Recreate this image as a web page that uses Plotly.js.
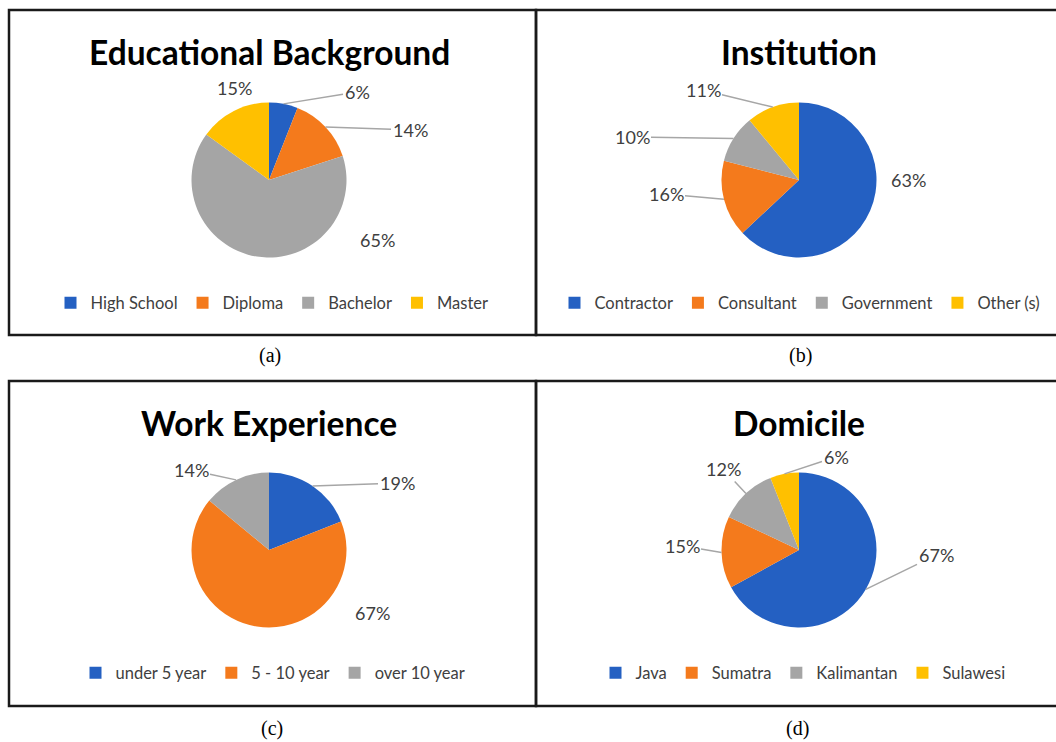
<!DOCTYPE html>
<html>
<head>
<meta charset="utf-8">
<script src="https://cdn.plot.ly/plotly-3.0.1.min.js"></script>
<style>html,body{margin:0;padding:0;background:#fff;}#chart{width:1056px;height:742px;}</style>
</head>
<body>
<div id="chart"></div>
<script>
// ---------- DATA ----------
const titles = ["Educational Background", "Institution", "Work Experience", "Domicile"];
const captions = ["(a)", "(b)", "(c)", "(d)"];

const eduLabels = ["High School", "Diploma", "Bachelor", "Master"];
const eduValues = [6, 14, 65, 15];

const instLabels = ["Contractor", "Consultant", "Government", "Other (s)"];
const instValues = [63, 16, 10, 11];

const workLabels = ["under 5 year", "5 - 10 year", "over 10 year"];
const workValues = [19, 67, 14];

const domLabels = ["Java", "Sumatra", "Kalimantan", "Sulawesi"];
const domValues = [67, 15, 12, 6];

// ---------- LAYOUT / STYLE ----------
const W = 1056, H = 742;
const colors4 = ["#2460C2", "#F47A1C", "#A5A5A5", "#FFC000"];
const R = 77.5;
const panels = [
  {labels: eduLabels, values: eduValues, cx: 269, cy: 180, titleY: 52, legX: 272, legY: 303, capX: 270, capY: 355,
   offsets: [[88,-88],[141,-50],[108,60],[-35,-92]], lines: [true,true,false,false]},
  {labels: instLabels, values: instValues, cx: 799, cy: 180, titleY: 52, legX: 800, legY: 303, capX: 800, capY: 355,
   offsets: [[109,0],[-133,14],[-167,-43],[-96,-90]], lines: [false,true,true,true]},
  {labels: workLabels, values: workValues, cx: 269, cy: 550, titleY: 423, legX: 273, legY: 673, capX: 272, capY: 728,
   offsets: [[128,-67],[103,63],[-78,-80]], lines: [true,false,true]},
  {labels: domLabels, values: domValues, cx: 799, cy: 550, titleY: 423, legX: 803, legY: 673, capX: 797, capY: 728,
   offsets: [[137,5],[-117,-4],[-76,-81],[37,-93]], lines: [true,true,true,true]}
];

const px = x => x / W;
const py = y => 1 - y / H;

const traces = [];
const annotations = [];
const layout = {
  width: W, height: H,
  margin: {l: 0, r: 0, t: 0, b: 0},
  paper_bgcolor: "#ffffff",
  showlegend: true,
  font: {family: "Lato, 'Open Sans', sans-serif", color: "#404040"},
  shapes: [
    {type: "rect", xref: "paper", yref: "paper", x0: px(9), x1: px(536), y0: py(10), y1: py(335), line: {color: "#1a1a1a", width: 2.5}},
    {type: "rect", xref: "paper", yref: "paper", x0: px(536), x1: px(1062), y0: py(10), y1: py(335), line: {color: "#1a1a1a", width: 2.5}},
    {type: "rect", xref: "paper", yref: "paper", x0: px(9), x1: px(536), y0: py(381), y1: py(706), line: {color: "#1a1a1a", width: 2.5}},
    {type: "rect", xref: "paper", yref: "paper", x0: px(536), x1: px(1062), y0: py(381), y1: py(706), line: {color: "#1a1a1a", width: 2.5}}
  ],
  annotations: annotations
};

panels.forEach((p, i) => {
  const legName = i === 0 ? "legend" : "legend" + (i + 1);
  traces.push({
    type: "pie",
    labels: p.labels,
    values: p.values,
    sort: false,
    direction: "clockwise",
    rotation: 0,
    textinfo: "none",
    hoverinfo: "label+percent",
    marker: {colors: colors4.slice(0, p.labels.length), line: {width: 0}},
    domain: {x: [px(p.cx - R), px(p.cx + R)], y: [py(p.cy + R), py(p.cy - R)]},
    legend: legName
  });
  layout[legName] = {
    orientation: "h",
    x: px(p.legX), y: py(p.legY),
    xanchor: "center", yanchor: "middle",
    font: {family: "Lato, sans-serif", size: 16.5, color: "#404040"},
    bgcolor: "rgba(0,0,0,0)",
    itemclick: false, itemdoubleclick: false
  };
  // title
  annotations.push({
    xref: "paper", yref: "paper", x: px(p.cx), y: py(p.titleY),
    xanchor: "center", yanchor: "middle", showarrow: false,
    text: "<b>" + titles[i] + "</b>",
    font: {family: "Lato, sans-serif", size: 33.5, color: "#000000"}
  });
  // caption
  annotations.push({
    xref: "paper", yref: "paper", x: px(p.capX), y: py(p.capY),
    xanchor: "center", yanchor: "middle", showarrow: false,
    text: captions[i],
    font: {family: "'Liberation Serif', 'Times New Roman', serif", size: 20, color: "#000000"}
  });
  // data labels derived from the values
  const total = p.values.reduce((a, b) => a + b, 0);
  let cum = 0;
  p.values.forEach((v, k) => {
    const mid = (cum + v / 2) / total * 2 * Math.PI;
    cum += v;
    const tipX = p.cx + R * Math.sin(mid);
    const tipY = p.cy - R * Math.cos(mid);
    const tx = p.cx + p.offsets[k][0];
    const ty = p.cy + p.offsets[k][1];
    const txt = Math.round(v / total * 100) + "%";
    if (p.lines[k]) {
      annotations.push({
        xref: "paper", yref: "paper", x: px(tipX), y: py(tipY),
        axref: "pixel", ayref: "pixel", ax: tx - tipX, ay: ty - tipY,
        showarrow: true, arrowhead: 0, arrowwidth: 1.5, arrowcolor: "#A6A6A6", standoff: 0,
        text: txt, font: {family: "Lato, sans-serif", size: 18, color: "#404040"}
      });
    } else {
      annotations.push({
        xref: "paper", yref: "paper", x: px(tx), y: py(ty),
        xanchor: "center", yanchor: "middle", showarrow: false,
        text: txt, font: {family: "Lato, sans-serif", size: 18, color: "#404040"}
      });
    }
  });
});

Plotly.newPlot("chart", traces, layout, {displayModeBar: false, staticPlot: true});
</script>
</body>
</html>
